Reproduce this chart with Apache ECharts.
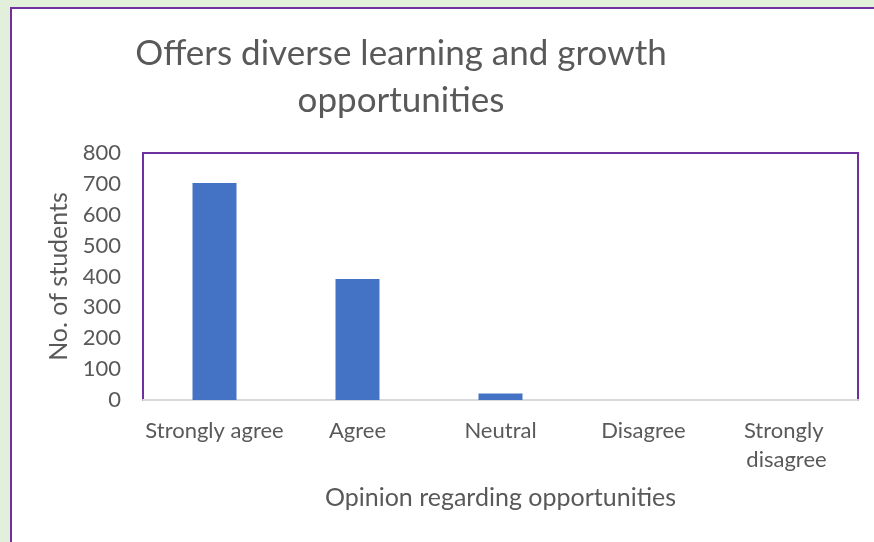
<!DOCTYPE html>
<html>
<head>
<meta charset="utf-8">
<script src="https://cdn.jsdelivr.net/npm/echarts@6/dist/echarts.min.js"></script>
<style>
  html, body { margin: 0; padding: 0; background: #e2efda; }
  #chart { width: 874px; height: 542px; }
</style>
</head>
<body>
<div id="chart"></div>
<script>
// opinion categories and student counts
const categories = ['Strongly agree', 'Agree', 'Neutral', 'Disagree', 'Strongly disagree']
const students = [703, 392, 21, 0, 0]
const yTicks = { min: 0, max: 800, interval: 100 }

const textColor = '#595959'
const fontFamily = 'Lato, "Open Sans", sans-serif'

let myChart = echarts.init(document.getElementById('chart'))
let option = {
  backgroundColor: '#e2efda',
  textStyle: { fontFamily: fontFamily },
  graphic: [
    {
      type: 'rect',
      z: -10,
      shape: { x: 11, y: 8, width: 900, height: 600 },
      style: { fill: '#ffffff', stroke: '#7030a0', lineWidth: 2 }
    }
  ],
  title: {
    text: 'Offers diverse learning and growth\nopportunities',
    left: 396,
    top: 25,
    textAlign: 'center',
    textStyle: {
      color: textColor,
      fontSize: 35,
      fontWeight: 'normal',
      lineHeight: 47,
      fontFamily: fontFamily
    }
  },
  grid: {
    left: 143,
    right: 16,
    top: 153,
    bottom: 142,
    show: true,
    borderColor: '#7030a0',
    borderWidth: 2,
    backgroundColor: 'transparent'
  },
  xAxis: {
    type: 'category',
    data: categories,
    name: 'Opinion regarding opportunities',
    nameLocation: 'middle',
    nameGap: 85,
    nameTextStyle: { color: textColor, fontSize: 25, fontFamily: fontFamily },
    axisLine: { lineStyle: { color: '#d9d9d9', width: 2 } },
    axisTick: { show: false },
    axisLabel: {
      color: textColor,
      fontSize: 22,
      margin: 16,
      lineHeight: 29,
      width: 142,
      overflow: 'break',
      interval: 0
    }
  },
  yAxis: {
    type: 'value',
    min: yTicks.min,
    max: yTicks.max,
    interval: yTicks.interval,
    name: 'No. of students',
    nameLocation: 'middle',
    nameGap: 68,
    nameTextStyle: { color: textColor, fontSize: 25, fontFamily: fontFamily },
    axisLine: { show: false },
    axisTick: { show: false },
    splitLine: { show: false },
    axisLabel: { color: textColor, fontSize: 22, margin: 22 }
  },
  series: [
    {
      type: 'bar',
      data: students,
      barWidth: 44,
      itemStyle: { color: '#4472c4' }
    }
  ]
}
myChart.setOption(option)
</script>
</body>
</html>
